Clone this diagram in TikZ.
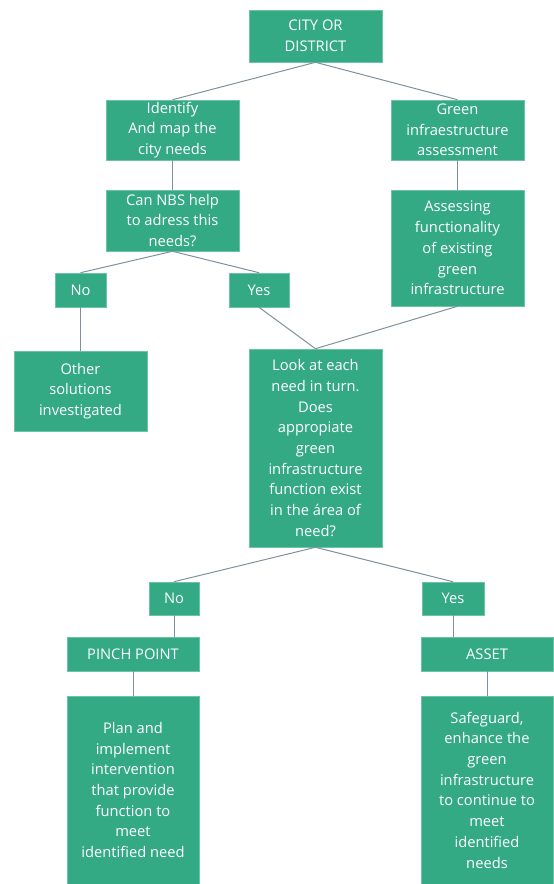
\documentclass[tikz,border=0pt]{standalone}
\usepackage{fontspec}
\setmainfont{Open Sans}
\definecolor{nbs}{HTML}{33A984}
\definecolor{nbsrim}{HTML}{6CC3A5}
\definecolor{wire}{HTML}{7F919E}
\tikzset{
  box/.style={fill=nbs,draw=nbsrim,line width=0.6pt,inner sep=0pt,align=center,
    text=white,font=\fontsize{14.7pt}{20.7pt}\selectfont},
  lnk/.style={draw=wire,line width=1pt},
}
\begin{document}
\begin{tikzpicture}[x=1pt,y=-1pt]
\useasboundingbox (0,0) rectangle (554,884);
% top part
\node[box,minimum width=133pt,minimum height=52pt] (city) at (315.5,36) {CITY OR\\DISTRICT};
\node[box,minimum width=133pt,minimum height=60pt] (ident) at (172.5,130) {Identify\\And map the\\city needs};
\node[box,minimum width=133pt,minimum height=60pt] (gia) at (457.5,130) {Green\\infraestructure\\assessment};
\node[box,minimum width=133pt,minimum height=61pt] (nbsq) at (172.5,220.5) {Can NBS help\\to adress this\\needs?};
\node[box,minimum width=133pt,minimum height=116pt] (assess) at (457.5,248) {Assessing\\functionality\\of existing\\green\\infrastructure};
\node[box,minimum width=51pt,minimum height=34pt] (no1) at (80.5,290) {No};
\node[box,minimum width=60pt,minimum height=34pt] (yes1) at (259,290) {Yes};
\node[box,minimum width=133pt,minimum height=80pt] (other) at (80.5,391) {Other\\solutions\\investigated};
\node[box,minimum width=133pt,minimum height=198pt] (look) at (315.5,448) {Look at each\\need in turn.\\Does\\appropiate\\green\\infrastructure\\function exist\\in the área of\\need?};
% bottom part
\node[box,minimum width=50pt,minimum height=33pt] (no2) at (174,598.5) {No};
\node[box,minimum width=62pt,minimum height=33pt] (yes2) at (453,598.5) {Yes};
\node[box,minimum width=132pt,minimum height=34pt] (pinch) at (133,654) {PINCH POINT};
\node[box,minimum width=132pt,minimum height=34pt] (asset) at (487,654) {ASSET};
\node[box,minimum width=132pt,minimum height=188pt] (plan) at (133,790) {Plan and\\implement\\intervention\\that provide\\function to\\meet\\identified need};
\node[box,minimum width=132pt,minimum height=188pt] (safe) at (487,790) {Safeguard,\\enhance the\\green\\infrastructure\\to continue to\\meet\\identified\\needs};
\draw[lnk] (city.south)--(ident.north); \draw[lnk] (city.south)--(gia.north);
\draw[lnk] (ident)--(nbsq); \draw[lnk] (gia)--(assess);
\draw[lnk] (nbsq.south)--(no1.north); \draw[lnk] (nbsq.south)--(yes1.north);
\draw[lnk] (no1)--(other);
\draw[lnk] (yes1.south)--(look.north); \draw[lnk] (assess.south)--(look.north);
\draw[lnk] (look.south)--(no2.north); \draw[lnk] (look.south)--(yes2.north);
\draw[lnk] (no2.south)--(no2.south |- pinch.north); \draw[lnk] (yes2.south)--(yes2.south |- asset.north);
\draw[lnk] (pinch)--(plan); \draw[lnk] (asset)--(safe);
\end{tikzpicture}
\end{document}
